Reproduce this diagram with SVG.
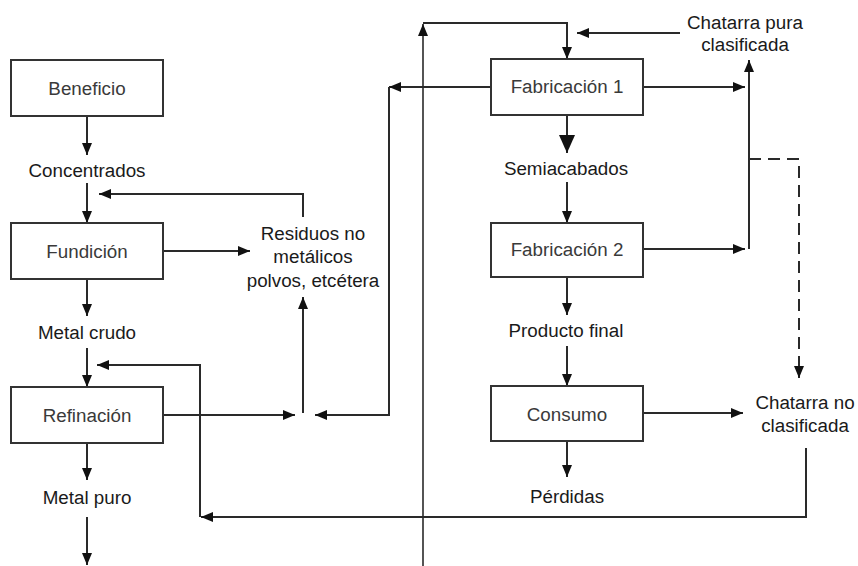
<svg xmlns="http://www.w3.org/2000/svg" width="858" height="566" viewBox="0 0 858 566">
<defs>
<style>
.box{fill:#fff;stroke:#333;stroke-width:2}
.t{font-family:"Liberation Sans",Arial,sans-serif;font-size:18.8px;fill:#1a1a1a;text-anchor:middle;dominant-baseline:central}
.bt{fill:#3a3a3a}
.c{fill:none;stroke:#2a2a2a;stroke-width:2}
.thin{stroke-width:1.6}
.dash{stroke-dasharray:12,7}
</style>
<marker id="ah" markerUnits="userSpaceOnUse" markerWidth="12" markerHeight="10" refX="12" refY="5" orient="auto"><path d="M0,0 L12,5 L0,10 z" fill="#111"/></marker>
<marker id="ahb" markerUnits="userSpaceOnUse" markerWidth="18" markerHeight="16" refX="18" refY="8" orient="auto"><path d="M0,0 L18,8 L0,16 z" fill="#111"/></marker>
</defs>
<g id="connectors">
<path class="c" d="M87,116 V155" marker-end="url(#ah)"/>
<path class="c" d="M87,183 V223" marker-end="url(#ah)"/>
<path class="c" d="M303,217 V194 H99" marker-end="url(#ah)"/>
<path class="c" d="M163,251 H250" marker-end="url(#ah)"/>
<path class="c" d="M87,279 V316" marker-end="url(#ah)"/>
<path class="c" d="M87,348 V387" marker-end="url(#ah)"/>
<path class="c" d="M163,415 H295" marker-end="url(#ah)"/>
<path class="c" d="M303,413 V297" marker-end="url(#ah)"/>
<path class="c" d="M491,87 H389" marker-end="url(#ah)"/>
<path class="c" d="M389,87 V415 H315" marker-end="url(#ah)"/>
<path class="c" d="M87,443 V480" marker-end="url(#ah)"/>
<path class="c" d="M87,517 V565" marker-end="url(#ah)"/>
<path class="c" d="M806,448 V517 H201" marker-end="url(#ah)"/>
<path class="c" d="M200,517 V365 H97" marker-end="url(#ah)"/>
<path class="c thin" d="M423,566 V24" marker-end="url(#ah)"/>
<path class="c" d="M423,23 H567 V59" marker-end="url(#ah)"/>
<path class="c" d="M680,33 H577" marker-end="url(#ah)"/>
<path class="c" d="M643,87 H745" marker-end="url(#ah)"/>
<path class="c" d="M749,249 V60" marker-end="url(#ah)"/>
<path class="c dash" d="M749,159 H799 V378" marker-end="url(#ah)"/>
<path class="c" d="M567,115 V153" marker-end="url(#ahb)"/>
<path class="c" d="M567,182 V223" marker-end="url(#ah)"/>
<path class="c" d="M643,249 H745" marker-end="url(#ah)"/>
<path class="c" d="M567,277 V315" marker-end="url(#ah)"/>
<path class="c" d="M567,346 V386" marker-end="url(#ah)"/>
<path class="c" d="M643,413 H743" marker-end="url(#ah)"/>
<path class="c" d="M567,441 V477" marker-end="url(#ah)"/>
</g>
<g id="beneficio"><rect class="box" x="11" y="60" width="152" height="56"/><text class="t bt" x="87" y="88">Beneficio</text></g>
<g id="concentrados"><text class="t" x="87" y="170">Concentrados</text></g>
<g id="fundicion"><rect class="box" x="11" y="223" width="152" height="56"/><text class="t bt" x="87" y="251">Fundición</text></g>
<g id="residuos"><text class="t" x="313" y="233">Residuos no</text><text class="t" x="313" y="256">metálicos</text><text class="t" x="313" y="280">polvos, etcétera</text></g>
<g id="metal-crudo"><text class="t" x="87" y="332">Metal crudo</text></g>
<g id="refinacion"><rect class="box" x="11" y="387" width="152" height="56"/><text class="t bt" x="87" y="415">Refinación</text></g>
<g id="metal-puro"><text class="t" x="87" y="497">Metal puro</text></g>
<g id="chatarra-pura"><text class="t" x="745" y="22">Chatarra pura</text><text class="t" x="745" y="44">clasificada</text></g>
<g id="fabricacion1"><rect class="box" x="491" y="59" width="152" height="56"/><text class="t bt" x="567" y="86">Fabricación 1</text></g>
<g id="semiacabados"><text class="t" x="566" y="168">Semiacabados</text></g>
<g id="fabricacion2"><rect class="box" x="491" y="223" width="152" height="54"/><text class="t bt" x="567" y="249">Fabricación 2</text></g>
<g id="producto-final"><text class="t" x="566" y="330">Producto final</text></g>
<g id="consumo"><rect class="box" x="491" y="386" width="152" height="55"/><text class="t bt" x="567" y="414">Consumo</text></g>
<g id="chatarra-no"><text class="t" x="805" y="402">Chatarra no</text><text class="t" x="805" y="425">clasificada</text></g>
<g id="perdidas"><text class="t" x="567" y="496">Pérdidas</text></g>
</svg>
